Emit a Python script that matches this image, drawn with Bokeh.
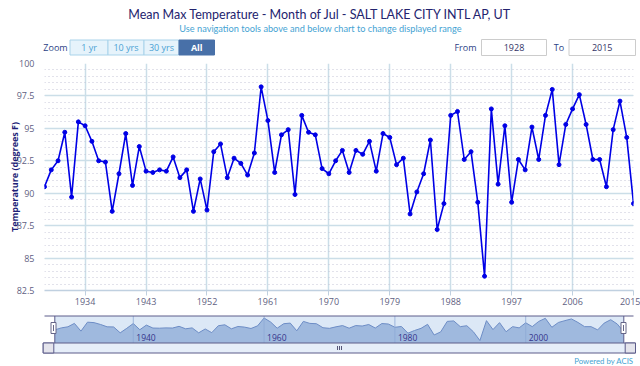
import math
from bokeh.plotting import figure
from bokeh.models import Range1d, FixedTicker, SingleIntervalTicker, PrintfTickFormatter
from bokeh.core.properties import value
from bokeh.embed import file_html
from bokeh.resources import INLINE

# ---------------- data ----------------
years = list(range(1928, 2016))
temps = [
    90.5, 91.8, 92.5, 94.7, 89.7, 95.5, 95.2, 94.0, 92.5, 92.4,   # 1928-1937
    88.6, 91.5, 94.6, 90.6, 93.6, 91.7, 91.6, 91.8, 91.7, 92.8,   # 1938-1947
    91.2, 91.8, 88.6, 91.1, 88.7, 93.2, 93.8, 91.2, 92.7, 92.3,   # 1948-1957
    91.4, 93.1, 98.2, 95.6, 91.6, 94.5, 94.9, 89.9, 96.0, 94.7,   # 1958-1967
    94.5, 91.9, 91.5, 92.5, 93.3, 91.6, 93.3, 93.0, 94.0, 91.7,   # 1968-1977
    94.6, 94.3, 92.2, 92.7, 88.4, 90.1, 91.5, 94.1, 87.2, 89.2,   # 1978-1987
    96.0, 96.3, 92.6, 93.2, 89.3, 83.6, 96.5, 90.7, 95.2, 89.3,   # 1988-1997
    92.6, 91.8, 95.1, 92.6, 96.0, 98.0, 92.2, 95.3, 96.5, 97.6,   # 1998-2007
    95.3, 92.6, 92.6, 90.5, 94.9, 97.1, 94.3, 89.2,               # 2008-2015
]
x_ticks = [1934, 1943, 1952, 1961, 1970, 1979, 1988, 1997, 2006, 2015]
nav_ticks = [1940, 1960, 1980, 2000]
zoom_buttons = ["1 yr", "10 yrs", "30 yrs", "All"]
title_text = "Mean Max Temperature - Month of Jul - SALT LAKE CITY INTL AP, UT"
subtitle_text = "Use navigation tools above and below chart to change displayed range"
y_title = "Temperature (degrees F)"
from_year = "1928"
to_year = "2015"
credit = "Powered by ACIS"

FONT = value("Open Sans")
TFONT = value("Lato")

# ---------------- geometry (canvas pixels) ----------------
W, H = 640, 366
PX0, PX1 = 44, 633      # plot frame left/right
PY1, PY0 = 63, 290      # plot frame top/bottom
NX0, NX1 = 54.3, 623.3  # navigator: x of first and last year
NT, NB = 315.5, 342.5   # navigator box top/bottom
SB = 352.5              # scrollbar bottom
VTOP, VBOT = 99.5, 82.0  # navigator values at box top/bottom


def nx(px):
    return years[0] + (px - NX0) * (years[-1] - years[0]) / (NX1 - NX0)


def nv(py):
    return VTOP - (py - NT) * (VTOP - VBOT) / (NB - NT)


p = figure(width=W, height=H, x_range=Range1d(years[0], years[-1]), y_range=Range1d(82.5, 100),
           min_border_left=PX0, min_border_right=W - PX1, min_border_top=PY1,
           min_border_bottom=H - PY0, toolbar_location=None, output_backend="svg")
p.outline_line_color = None
p.extra_x_ranges = {"px": Range1d(PX0, PX1), "navx": Range1d(nx(PX0), nx(PX1))}
p.extra_y_ranges = {"py": Range1d(PY0, PY1), "navv": Range1d(nv(PY0), nv(PY1))}

PG = dict(x_range_name="px", y_range_name="py", level="annotation")

# ---------------- axes / grid ----------------
p.yaxis.ticker = SingleIntervalTicker(interval=2.5, num_minor_ticks=5)
p.yaxis.formatter = PrintfTickFormatter(format="%g")
p.yaxis.axis_line_color = None
p.yaxis.major_tick_line_color = None
p.yaxis.minor_tick_line_color = None
p.yaxis.major_label_standoff = 4
p.yaxis.major_label_text_font = "Open Sans"
p.yaxis.major_label_text_font_size = "9px"
p.yaxis.major_label_text_color = "#5f5f82"

p.xaxis.ticker = FixedTicker(ticks=x_ticks)
p.xaxis.axis_line_color = "#c0d0e0"
p.xaxis.axis_line_width = 1.5
p.xaxis.major_tick_line_color = "#c0d0e0"
p.xaxis.major_tick_out = 5
p.xaxis.major_tick_in = 0
p.xaxis.minor_tick_line_color = None
p.xaxis.major_label_standoff = 2
p.xaxis.major_label_text_font = "Open Sans"
p.xaxis.major_label_text_font_size = "9px"
p.xaxis.major_label_text_color = "#5f5f82"

p.xgrid.grid_line_color = "#cbdee8"
p.xgrid.grid_line_width = 1.5
p.ygrid.grid_line_color = "#cbdee8"
p.ygrid.grid_line_width = 1.5
p.ygrid.minor_grid_line_color = "#c4c4d6"
p.ygrid.minor_grid_line_dash = "1 3"

# ---------------- main series ----------------
p.line(years, temps, line_color="#0000e6", line_width=1.6)
p.scatter(years, temps, marker="circle", size=4, fill_color="#0000e6", line_color="#0000e6")

# ---------------- header ----------------
p.text(x=[320], y=[13.5], text=[title_text], text_font=TFONT, text_font_size=value("12.5px"),
       text_color="#23236e", text_align="center", text_baseline="middle", **PG)
p.text(x=[320], y=[28], text=[subtitle_text], text_font=TFONT, text_font_size=value("9.2px"),
       text_color="#45a3d3", text_align="center", text_baseline="middle", **PG)

p.text(x=[55], y=[47], text=["Zoom"], text_font=FONT, text_font_size=value("9px"),
       text_color="#2c3f86", text_align="center", text_baseline="middle", **PG)
b_edges = [69.5, 107.5, 143.5, 178.5, 214.0]
b_left = b_edges[:-1]
b_right = b_edges[1:]
b_fill = ["#e6f3fb", "#e6f3fb", "#e6f3fb", "#4870a8"]
b_line = ["#a9d3ea", "#a9d3ea", "#a9d3ea", "#4870a8"]
p.quad(left=b_left, right=b_right, top=39.5, bottom=54.5, fill_color=b_fill, line_color=b_line, **PG)
p.text(x=[(a + b) / 2 for a, b in zip(b_left[:3], b_right[:3])], y=47, text=zoom_buttons[:3],
       text_font=FONT, text_font_size=value("9px"), text_color="#4aa2d4",
       text_align="center", text_baseline="middle", **PG)
p.text(x=[(b_left[3] + b_right[3]) / 2], y=[47], text=[zoom_buttons[3]], text_font=FONT,
       text_font_size=value("9px"), text_font_style="bold", text_color="#ffffff",
       text_align="center", text_baseline="middle", **PG)

p.text(x=[465, 558.5], y=47, text=["From", "To"], text_font=FONT, text_font_size=value("9px"),
       text_color="#2c3f86", text_align="center", text_baseline="middle", **PG)
p.quad(left=[481, 568.5], right=[546, 635], top=39, bottom=55, fill_color="#ffffff",
       line_color="#cccccc", **PG)
p.text(x=[513.5, 601.7], y=47, text=[from_year, to_year], text_font=FONT,
       text_font_size=value("9px"), text_color="#333366", text_align="center",
       text_baseline="middle", **PG)

# y-axis title
p.text(x=[14], y=[(PY0 + PY1) / 2], text=[y_title], angle=math.pi / 2, text_font=FONT,
       text_font_size=value("9px"), text_font_style="bold", text_color="#1f1f78",
       text_align="center", text_baseline="middle", **PG)

# ---------------- navigator ----------------
p.quad(left=[NX0], right=[NX1], top=NT, bottom=NB, fill_color="#dce8f6", line_color=None, **PG)
p.varea(x=years, y1=VBOT, y2=temps, x_range_name="navx", y_range_name="navv", level="annotation",
        fill_color="#9fb9de")
p.line(years, temps, x_range_name="navx", y_range_name="navv", level="annotation",
       line_color="#6d8dc6", line_width=1)
p.segment(x0=nav_ticks, x1=nav_ticks, y0=NT, y1=NB, x_range_name="navx", y_range_name="py",
          level="annotation", line_color="#8eaad6", line_width=1, line_alpha=0.8)
p.text(x=nav_ticks, y=337, text=[str(t) for t in nav_ticks], x_range_name="navx",
       y_range_name="py", level="annotation", x_offset=3, text_font=FONT,
       text_font_size=value("8.5px"), text_color="#35358c", text_align="left",
       text_baseline="middle")

# outline
p.segment(x0=[44, NX0, NX1], x1=[633, NX0, NX1], y0=[NT, NT, NT], y1=[NT, NB, NB],
          line_color="#5c5c8a", line_width=1, **PG)
# scrollbar
p.quad(left=[42.7], right=[635], top=NB, bottom=SB, fill_color="#e6eef9", line_color="#5c5c8a", **PG)
p.quad(left=[42.7, 624.7], right=[53.3, 635], top=NB, bottom=SB, fill_color="#e4e4ec",
       line_color="#5c5c8a", **PG)
p.scatter(x=[48, 629.8], y=[(NB + SB) / 2] * 2, marker="triangle", size=4,
          angle=[1.5708, -1.5708], fill_color="#333344", line_color="#333344", **PG)
p.segment(x0=[337, 339, 341], x1=[337, 339, 341], y0=NB + 3, y1=SB - 3, line_color="#555577", **PG)
# handles
p.quad(left=[50.5, 620.5], right=[55.5, 625.5], top=322, bottom=333, fill_color="#ffffff",
       line_color="#666688", **PG)
p.segment(x0=[53, 623], x1=[53, 623], y0=324.5, y1=330.5, line_color="#666688", **PG)

p.text(x=[633], y=[360], text=[credit], text_font=TFONT, text_font_size=value("7.8px"),
       text_color="#45a3d3", text_align="right", text_baseline="middle", **PG)

open("out.html", "w").write(file_html(p, INLINE))
